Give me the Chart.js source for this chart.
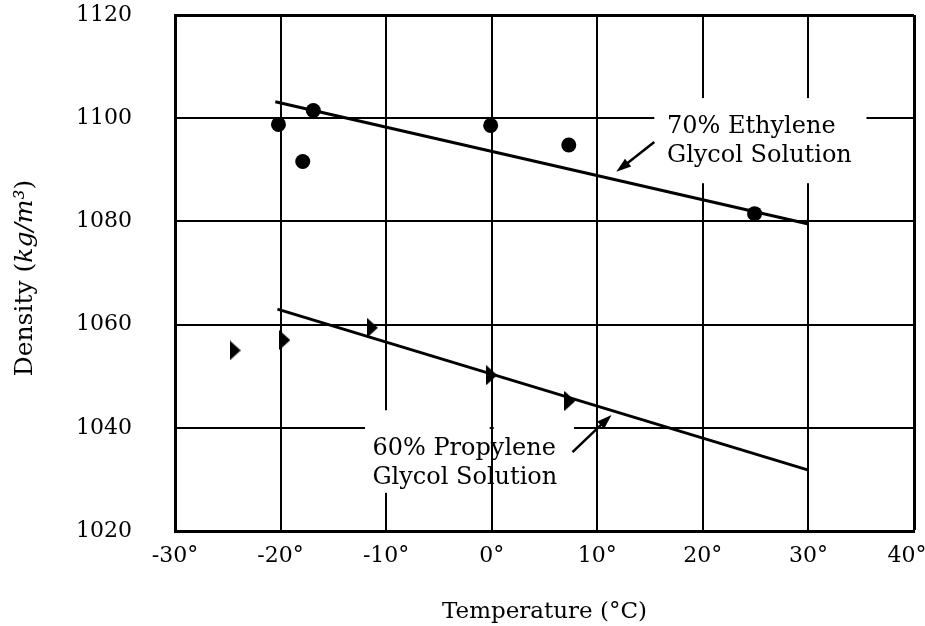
<!DOCTYPE html>
<html>
<head>
<meta charset="utf-8">
<script src="https://cdn.jsdelivr.net/npm/chart.js@4.4.0/dist/chart.umd.min.js"></script>
<style>
  html, body { margin: 0; padding: 0; background: #fff; }
  #wrap { width: 925px; height: 626px; }
</style>
</head>
<body>
<div id="wrap"><canvas id="chart" width="925" height="626"></canvas></div>
<script>
// Axis ranges and ticks
const TEMP_RANGE = [-30, 40];
const TEMP_STEP = 10;
const DENSITY_RANGE = [1020, 1120];
const DENSITY_STEP = 20;

// 70% ethylene glycol: measured points + fitted line
const ETHYLENE_TEMPS = [-20.2, -16.9, -17.9, -0.1, 7.3, 24.9];
const ETHYLENE_DENSITY = [1098.8, 1101.5, 1091.6, 1098.6, 1094.8, 1081.5];
const ETHYLENE_FIT_TEMPS = [-20.5, 30];
const ETHYLENE_FIT_DENSITY = [1103.2, 1079.5];

// 60% propylene glycol: measured points + fitted line
const PROPYLENE_TEMPS = [-24.3, -19.6, -11.3, 0.0, 7.4];
const PROPYLENE_DENSITY = [1055.0, 1057.0, 1059.4, 1050.2, 1045.2];
const PROPYLENE_FIT_TEMPS = [-20.3, 30];
const PROPYLENE_FIT_DENSITY = [1063.0, 1031.8];

const FONT = '"DejaVu Serif", "Liberation Serif", serif';

function toPoints(xs, ys) {
  return xs.map((x, i) => ({ x, y: ys[i] }));
}

// right-pointing triangle marker
function makeTriangle(w, h) {
  const c = document.createElement('canvas');
  c.width = w;
  c.height = h;
  const g = c.getContext('2d');
  g.fillStyle = '#000';
  g.beginPath();
  g.moveTo(0, 0);
  g.lineTo(w, h / 2);
  g.lineTo(0, h);
  g.closePath();
  g.fill();
  return c;
}

// labels + arrows, in data units
const NOTES = [
  { lines: ['70% Ethylene', 'Glycol Solution'], x: 16.6, y: 1097.1,
    arrow: { from: [15.4, 1095.4], to: [11.8, 1089.6] } },
  { lines: ['60% Propylene', 'Glycol Solution'], x: -11.3, y: 1034.8,
    arrow: { from: [7.65, 1035.3], to: [11.35, 1042.5] } }
];

// where the grid is broken around the labels
const GRID_GAPS = [
  { axis: 'y', value: 1100, from: 15.4, to: 35.5 },
  { axis: 'x', value: 20, from: 1087.4, to: 1103.9 },
  { axis: 'x', value: 30, from: 1087.4, to: 1103.9 },
  { axis: 'y', value: 1040, from: -12.0, to: 7.8, keep: [0] },
  { axis: 'x', value: -10, from: 1027.4, to: 1043.4 }
];

const gridGaps = {
  id: 'gridGaps',
  beforeDatasetsDraw(chart) {
    const { ctx, scales: { x, y } } = chart;
    ctx.save();
    ctx.fillStyle = '#fff';
    GRID_GAPS.forEach((gap) => {
      if (gap.axis === 'y') {
        const py = y.getPixelForValue(gap.value);
        let x0 = x.getPixelForValue(gap.from);
        const x1 = x.getPixelForValue(gap.to);
        const cuts = (gap.keep || []).map((v) => x.getPixelForValue(v)).sort((a, b) => a - b);
        cuts.forEach((c) => {
          ctx.fillRect(x0, py - 2.5, c - 2 - x0, 5);
          x0 = c + 2;
        });
        ctx.fillRect(x0, py - 2.5, x1 - x0, 5);
      } else {
        const px = x.getPixelForValue(gap.value);
        const y0 = y.getPixelForValue(gap.to);
        const y1 = y.getPixelForValue(gap.from);
        ctx.fillRect(px - 2.5, y0, 5, y1 - y0);
      }
    });
    ctx.restore();
  }
};

const notes = {
  id: 'notes',
  afterDatasetsDraw(chart) {
    const { ctx, scales: { x, y } } = chart;
    ctx.save();
    ctx.fillStyle = '#000';
    ctx.strokeStyle = '#000';
    ctx.font = `24px ${FONT}`;
    ctx.textAlign = 'left';
    ctx.textBaseline = 'alphabetic';
    NOTES.forEach((n) => {
      const px = x.getPixelForValue(n.x);
      const py = y.getPixelForValue(n.y);
      n.lines.forEach((t, i) => ctx.fillText(t, px, py + i * 29));

      const fx = x.getPixelForValue(n.arrow.from[0]);
      const fy = y.getPixelForValue(n.arrow.from[1]);
      const tx = x.getPixelForValue(n.arrow.to[0]);
      const ty = y.getPixelForValue(n.arrow.to[1]);
      const ang = Math.atan2(ty - fy, tx - fx);
      ctx.lineWidth = 2.5;
      ctx.beginPath();
      ctx.moveTo(fx, fy);
      ctx.lineTo(tx - Math.cos(ang) * 8, ty - Math.sin(ang) * 8);
      ctx.stroke();
      ctx.beginPath();
      ctx.moveTo(tx, ty);
      ctx.lineTo(tx - Math.cos(ang) * 15 + Math.sin(ang) * 5, ty - Math.sin(ang) * 15 - Math.cos(ang) * 5);
      ctx.lineTo(tx - Math.cos(ang) * 15 - Math.sin(ang) * 5, ty - Math.sin(ang) * 15 + Math.cos(ang) * 5);
      ctx.closePath();
      ctx.fill();
    });
    ctx.restore();
  }
};

// y title with italic units
const yTitle = {
  id: 'yTitle',
  afterDraw(chart) {
    const { ctx, chartArea } = chart;
    const parts = [
      ['Density (', `25px ${FONT}`],
      ['kg/m', `italic 25px ${FONT}`],
      ['³', `italic 25px ${FONT}`],
      [')', `25px ${FONT}`]
    ];
    ctx.save();
    let total = 0;
    parts.forEach(([t, f]) => { ctx.font = f; total += ctx.measureText(t).width; });
    ctx.translate(32, (chartArea.top + chartArea.bottom) / 2 + 5);
    ctx.rotate(-Math.PI / 2);
    ctx.fillStyle = '#000';
    ctx.textBaseline = 'alphabetic';
    ctx.textAlign = 'left';
    let cx = -total / 2;
    parts.forEach(([t, f]) => {
      ctx.font = f;
      ctx.fillText(t, cx, 0);
      cx += ctx.measureText(t).width;
    });
    ctx.restore();
  }
};

new Chart(document.getElementById('chart'), {
  type: 'scatter',
  data: {
    datasets: [
      {
        label: '70% Ethylene Glycol Solution (fit)',
        data: toPoints(ETHYLENE_FIT_TEMPS, ETHYLENE_FIT_DENSITY),
        showLine: true,
        borderColor: '#000',
        borderWidth: 3,
        pointRadius: 0
      },
      {
        label: '60% Propylene Glycol Solution (fit)',
        data: toPoints(PROPYLENE_FIT_TEMPS, PROPYLENE_FIT_DENSITY),
        showLine: true,
        borderColor: '#000',
        borderWidth: 3,
        pointRadius: 0
      },
      {
        label: '70% Ethylene Glycol Solution',
        data: toPoints(ETHYLENE_TEMPS, ETHYLENE_DENSITY),
        pointStyle: 'circle',
        pointRadius: 7.5,
        backgroundColor: '#000',
        borderWidth: 0
      },
      {
        label: '60% Propylene Glycol Solution',
        data: toPoints(PROPYLENE_TEMPS, PROPYLENE_DENSITY),
        pointStyle: makeTriangle(11, 20),
        pointRadius: 10
      }
    ]
  },
  options: {
    responsive: false,
    animation: false,
    devicePixelRatio: 1,
    layout: { padding: { top: 15, right: 10, left: 0, bottom: 0 } },
    plugins: {
      legend: { display: false },
      tooltip: { enabled: false }
    },
    scales: {
      x: {
        type: 'linear',
        min: TEMP_RANGE[0],
        max: TEMP_RANGE[1],
        ticks: {
          stepSize: TEMP_STEP,
          // last label sits a little inside the frame edge, as in the print
          callback: (v) => (v === TEMP_RANGE[1] ? `${v}°\u2007` : `${v}°`),
          color: '#000',
          font: { family: FONT, size: 22 },
          padding: 12,
          maxRotation: 0
        },
        grid: {
          color: '#000',
          lineWidth: (ctx) => (ctx.tick && ctx.tick.value === TEMP_RANGE[1] ? 3 : 2),
          drawTicks: false
        },
        border: { color: '#000', width: 3 },
        title: {
          display: true,
          text: 'Temperature (°C)',
          color: '#000',
          font: { family: FONT, size: 23 },
          padding: { top: 0, bottom: 0 }
        },
        afterFit: (s) => { s.height = 95; s.paddingRight = 0; s.paddingLeft = 0; }
      },
      y: {
        type: 'linear',
        min: DENSITY_RANGE[0],
        max: DENSITY_RANGE[1],
        ticks: {
          stepSize: DENSITY_STEP,
          callback: (v) => String(v),
          color: '#000',
          font: { family: FONT, size: 22 },
          padding: 43
        },
        grid: {
          color: '#000',
          lineWidth: (ctx) => (ctx.tick && ctx.tick.value === DENSITY_RANGE[1] ? 3 : 2),
          drawTicks: false
        },
        border: { color: '#000', width: 3 },
        afterFit: (s) => { s.width = 175; s.paddingTop = 0; s.paddingBottom = 0; }
      }
    }
  },
  plugins: [gridGaps, notes, yTitle]
});
</script>
</body>
</html>
